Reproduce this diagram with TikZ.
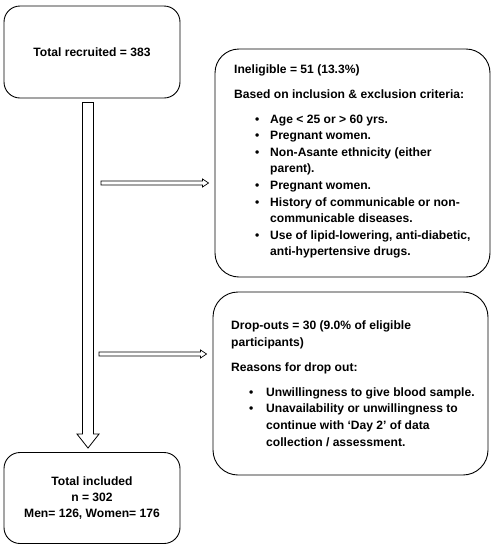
\documentclass[tikz,border=0pt]{standalone}
\usepackage{fontspec}
\setmainfont{Liberation Sans}
\usetikzlibrary{calc}
\begin{document}
\begin{tikzpicture}[x=1pt,y=-1pt,
  box/.style={draw, line width=0.9pt, inner sep=0pt},
  fnt/.style={font=\bfseries\fontsize{12.1}{16}\selectfont},
  txt/.style={fnt, inner sep=0pt, anchor=base west},
  arr/.style={draw, line width=0.8pt, fill=white, line join=miter}]
\useasboundingbox (0,0) rectangle (494,550);
% boxes
\node[box, rounded corners=16pt, minimum width=176pt, minimum height=92pt, fnt] (rec) at (92,52) {Total recruited = 383};
\node[box, rounded corners=24pt, minimum width=275pt, minimum height=228pt] (inel) at (352.5,163) {};
\node[box, rounded corners=25pt, minimum width=275pt, minimum height=183pt] (drop) at (350.5,383.5) {};
\node[box, rounded corners=16pt, minimum width=176pt, minimum height=91pt, fnt, align=center] (incl) at (92,498) {Total included\\ n = 302\\ Men= 126, Women= 176};
% ineligible text
\node[txt] (i1) at (234,73) {Ineligible = 51 (13.3\%)};
\node[txt] (i2) at (234,98) {Based on inclusion \& exclusion criteria:};
\foreach \k/\t/\b in {0/{Age < 25 or > 60 yrs.}/1,1/{Pregnant women.}/1,2/{Non-Asante ethnicity (either}/1,3/{parent).}/0,4/{Pregnant women.}/1,5/{History of communicable or non-}/1,6/{communicable diseases.}/0,7/{Use of lipid-lowering, anti-diabetic,}/1,8/{anti-hypertensive drugs.}/0}{
  \node[txt] (it\k) at (270,{123+\k*16.6}) {\t};
  \ifnum\b=1 \node[txt] (ib\k) at (255,{123+\k*16.6}) {\textbullet};\fi
}
% drop-out text
\node[txt] (d1) at (231,329) {Drop-outs = 30 (9.0\% of eligible};
\node[txt] (d2) at (231,346) {participants)};
\node[txt] (d3) at (231,371) {Reasons for drop out:};
\foreach \k/\t/\b in {0/{Unwillingness to give blood sample.}/1,1/{Unavailability or unwillingness to}/1,2/{continue with ‘Day 2’ of data}/0,3/{collection / assessment.}/0}{
  \node[txt] (dt\k) at (266,{396+\k*16.7}) {\t};
  \ifnum\b=1 \node[txt] (db\k) at (249,{396+\k*16.7}) {\textbullet};\fi
}
% main vertical arrow
\coordinate (vs) at ($(rec.south)+(-4,4)$);
\coordinate (ve) at ($(incl.north)+(-4,-4)$);
\draw[arr] ($(vs)+(-5.5,0)$) -- ($(ve)+(-5.5,-14)$) -- ($(ve)+(-11,-14)$) -- (ve) -- ($(ve)+(11,-14)$) -- ($(ve)+(5.5,-14)$) -- ($(vs)+(5.5,0)$) -- cycle;
% horizontal arrows
\coordinate (h1s) at (101,183);
\coordinate (h1e) at ($(inel.west)+(-6,20)$);
\coordinate (h2s) at (99,354);
\coordinate (h2e) at ($(drop.west)+(-6,-29.5)$);
\foreach \s/\e in {h1s/h1e,h2s/h2e}{
  \draw[arr, line width=0.7pt] ($(\s)+(0,-2)$) -- ($(\e)+(-6,-2)$) -- ($(\e)+(-6,-4)$) -- (\e) -- ($(\e)+(-6,4)$) -- ($(\e)+(-6,2)$) -- ($(\s)+(0,2)$) -- cycle;
}
\end{tikzpicture}
\end{document}
